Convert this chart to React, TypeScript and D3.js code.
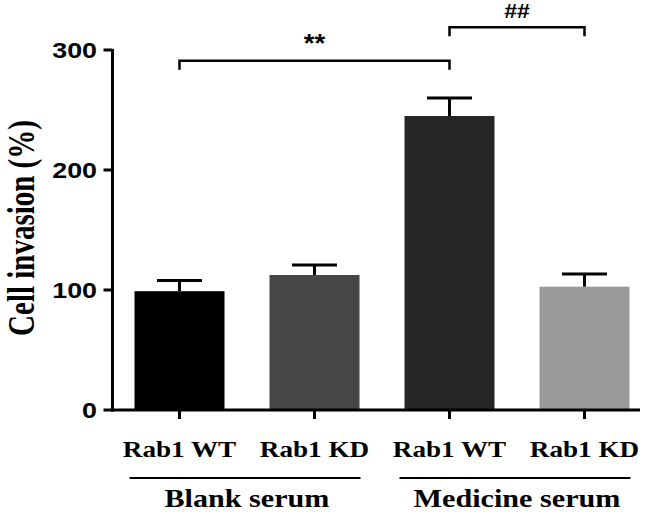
import React from "react";
import * as d3 from "d3";

const categories = ["Blank-WT", "Blank-KD", "Medicine-WT", "Medicine-KD"];
const tickLabels = ["Rab1 WT", "Rab1 KD", "Rab1 WT", "Rab1 KD"];
const values = [99, 112.5, 245, 102.8];
const errors = [9, 8.3, 15, 10.5];
const colors = ["#000000", "#464646", "#262626", "#9a9a9a"];
const yTicks = [0, 100, 200, 300];
const groups = [
  { label: "Blank serum", from: 0, to: 1 },
  { label: "Medicine serum", from: 2, to: 3 },
];
const sigs = [
  { a: 0, b: 2, text: "**", yVal: 291 },
  { a: 2, b: 3, text: "##", yVal: 319 },
];

const W = 657;
const H = 514;
const SERIF = "'Liberation Serif', 'Times New Roman', serif";
const SANS = "'Liberation Sans', Arial, sans-serif";

export default function App() {
  const y = d3.scaleLinear().domain([0, 300]).range([410, 50]);
  const x = d3
    .scaleBand<string>()
    .domain(categories)
    .range([112, 652])
    .paddingInner(1 / 3)
    .paddingOuter(1 / 6);
  const cx = (i: number) => (x(categories[i]) as number) + x.bandwidth() / 2;
  const axisX = 112.5;
  const y0 = y(0);

  return (
    <svg
      width={W}
      height={H}
      style={{ position: "absolute", left: 0, top: 0, background: "#fff" }}
    >
      <rect x={0} y={0} width={W} height={H} fill="#fff" />
      {/* bars */}
      {categories.map((c, i) => (
        <g key={c}>
          <rect
            x={x(c)}
            y={y(values[i])}
            width={x.bandwidth()}
            height={y0 - y(values[i])}
            fill={colors[i]}
          />
          <line
            x1={cx(i)}
            x2={cx(i)}
            y1={y(values[i])}
            y2={y(values[i] + errors[i])}
            stroke="#000"
            strokeWidth={3}
          />
          <line
            x1={cx(i) - 22.5}
            x2={cx(i) + 22.5}
            y1={y(values[i] + errors[i])}
            y2={y(values[i] + errors[i])}
            stroke="#000"
            strokeWidth={3}
          />
        </g>
      ))}
      {/* y axis */}
      <line x1={axisX} x2={axisX} y1={y(300) - 1} y2={y0 + 1.5} stroke="#000" strokeWidth={3} />
      {yTicks.map((t) => (
        <g key={t}>
          <line x1={axisX - 9} x2={axisX} y1={y(t)} y2={y(t)} stroke="#000" strokeWidth={3} />
          <text
            transform={`translate(97, ${y(t) + 8}) scale(1.22,1)`}
            textAnchor="end"
            fontFamily={SANS}
            fontWeight="bold"
            fontSize={22}
            fill="#000"
          >
            {t}
          </text>
        </g>
      ))}
      {/* x axis */}
      <line x1={axisX - 1.5} x2={640} y1={y0} y2={y0} stroke="#000" strokeWidth={3} />
      {categories.map((c, i) => (
        <g key={"t" + c}>
          <line x1={cx(i)} x2={cx(i)} y1={y0} y2={y0 + 9} stroke="#000" strokeWidth={3} />
          <text
            transform={`translate(${cx(i)}, 457) scale(1.18,1)`}
            textAnchor="middle"
            fontFamily={SERIF}
            fontWeight="bold"
            fontSize={23}
            fill="#000"
          >
            {tickLabels[i]}
          </text>
        </g>
      ))}
      {/* group labels */}
      {groups.map((g) => {
        const l = (x(categories[g.from]) as number) - 5;
        const r = (x(categories[g.to]) as number) + x.bandwidth() + 1;
        const mid = (cx(g.from) + cx(g.to)) / 2;
        return (
          <g key={g.label}>
            <line x1={l} x2={r} y1={478} y2={478} stroke="#000" strokeWidth={2} />
            <text
              transform={`translate(${mid}, 507) scale(1.16,1)`}
              textAnchor="middle"
              fontFamily={SERIF}
              fontWeight="bold"
              fontSize={26}
              fill="#000"
            >
              {g.label}
            </text>
          </g>
        );
      })}
      {/* significance brackets */}
      {sigs.map((s) => {
        const yy = y(s.yVal);
        const xa = cx(s.a);
        const xb = cx(s.b);
        return (
          <g key={s.text}>
            <path
              d={`M${xa},${yy + 9}V${yy}H${xb}V${yy + 9}`}
              fill="none"
              stroke="#000"
              strokeWidth={2.5}
            />
            <text
              transform={`translate(${(xa + xb) / 2}, ${yy - 9}) scale(1.1,1)`}
              textAnchor="middle"
              fontFamily={SANS}
              fontWeight="bold"
              fontSize={s.text === "**" ? 25 : 21}
              fill="#000"
            >
              {s.text}
            </text>
          </g>
        );
      })}
      {/* y label */}
      <text
        transform={`translate(34, 228) scale(1.3,1) rotate(-90)`}
        textAnchor="middle"
        fontFamily={SERIF}
        fontWeight="bold"
        fontSize={29}
        fill="#000"
      >
        Cell invasion (%)
      </text>
    </svg>
  );
}
